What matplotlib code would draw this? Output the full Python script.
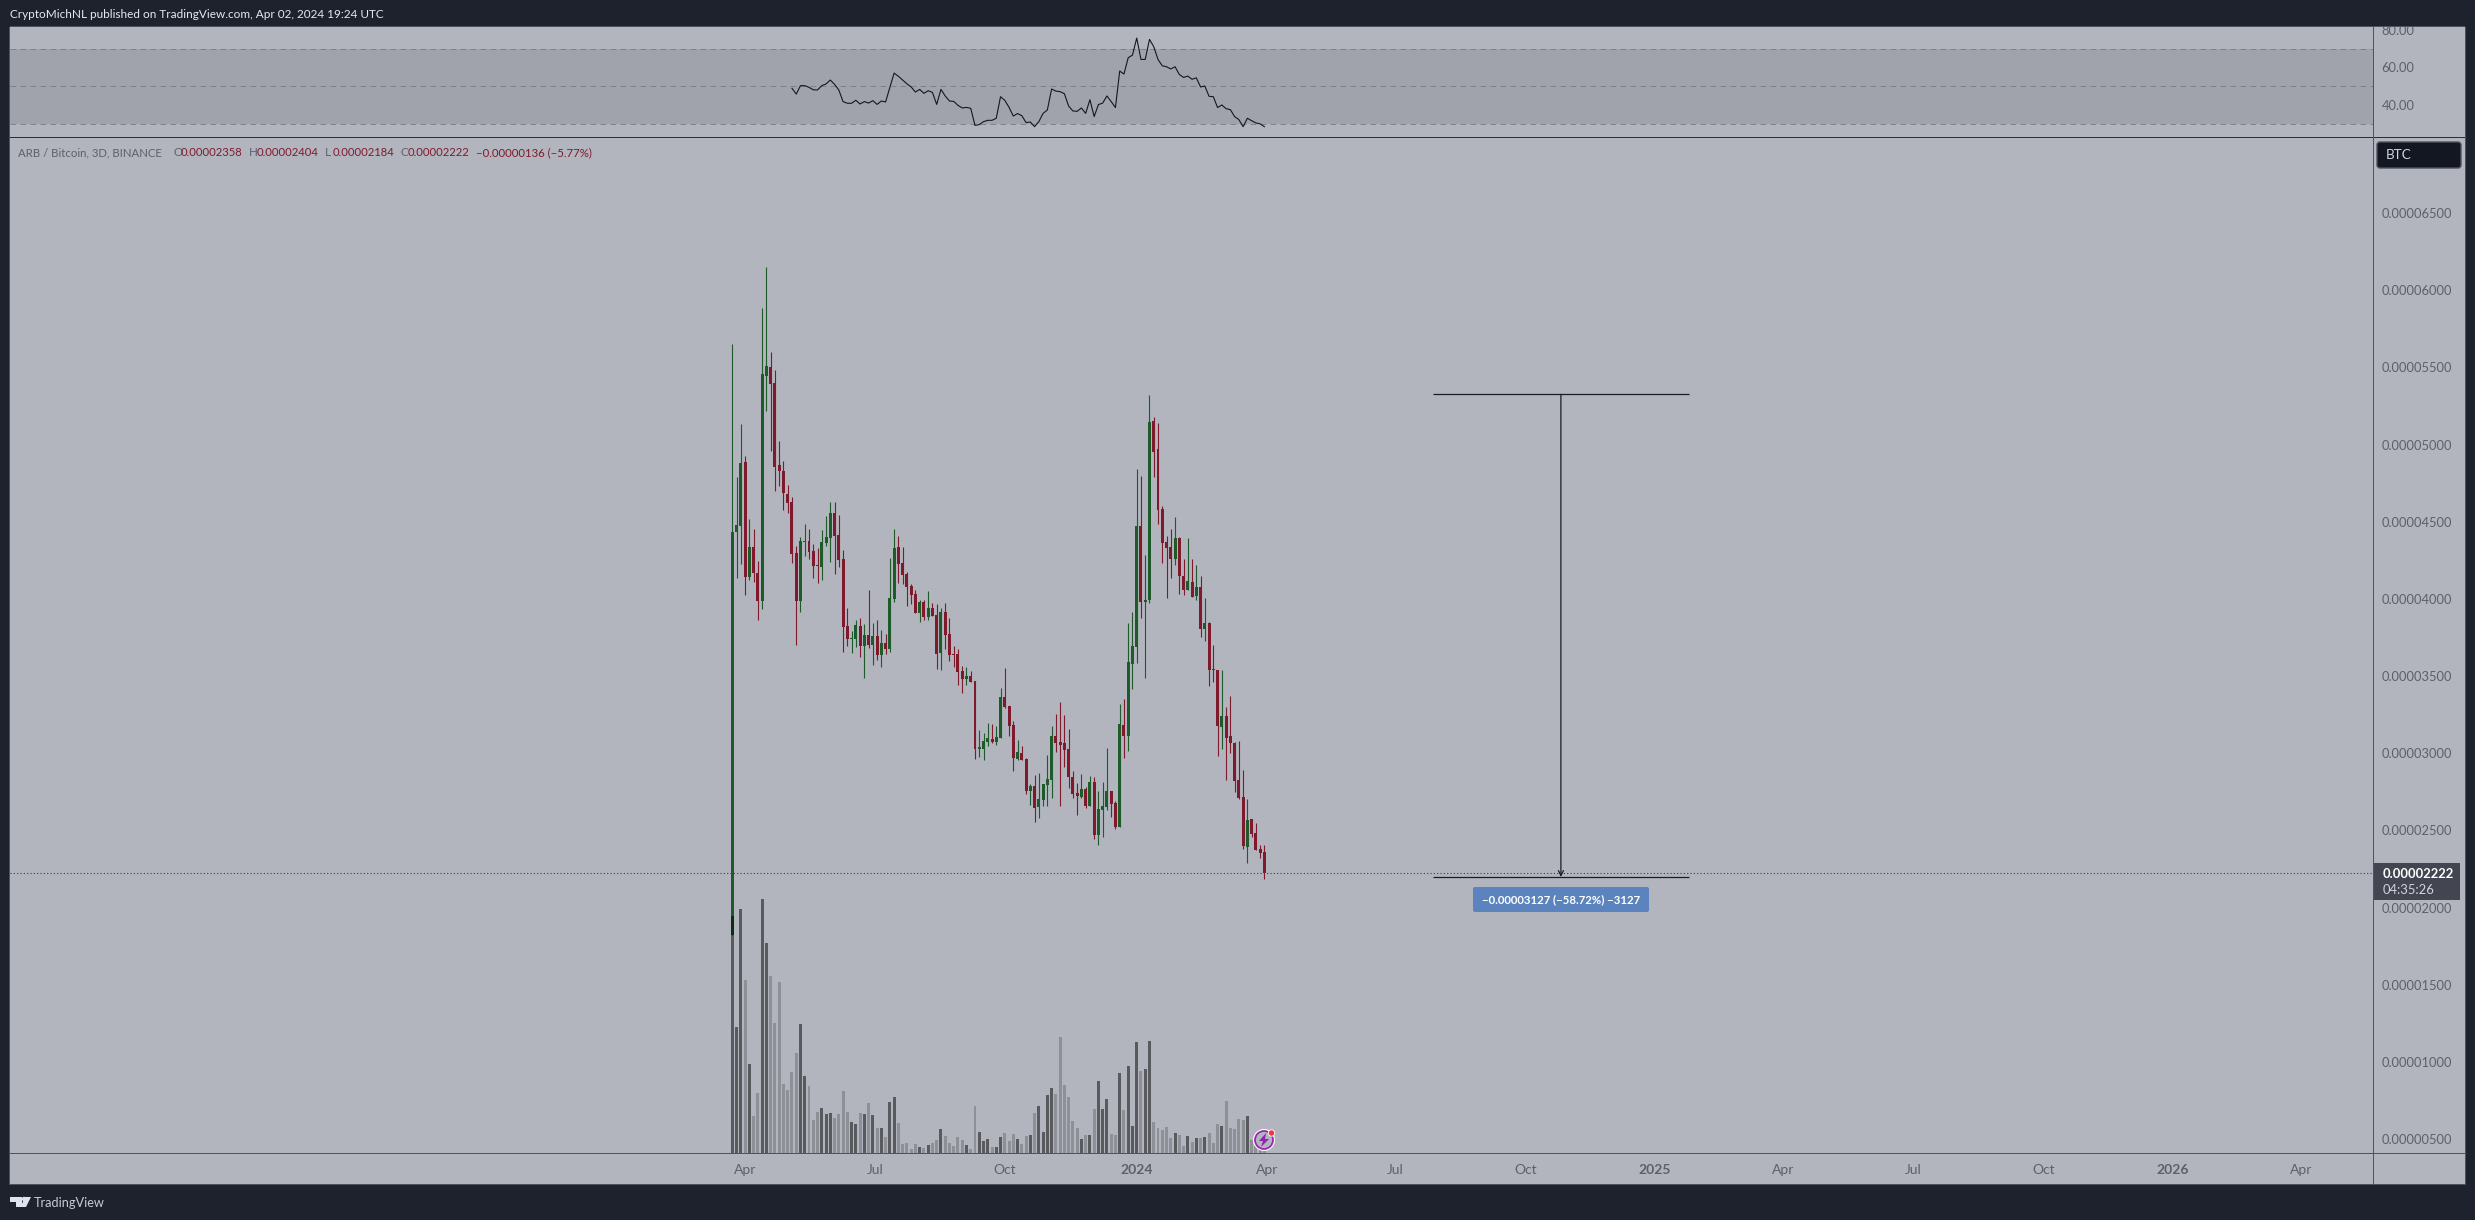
import numpy as np
import matplotlib
matplotlib.use('Agg')
import matplotlib.pyplot as plt
import matplotlib.dates as mdates
from matplotlib.patches import Rectangle, Circle, Polygon, FancyBboxPatch
from matplotlib.transforms import IdentityTransform

# prices are in satoshi (1e-8 BTC), one candle every 3 days
start_date = '2023-03-23'
opens = [1822,4431,4472,4889,4143,4336,4169,3988,5444,5502,5398,4867,4828,4679,4627,4297,3986,4368,4374,4310,4219,4206,4362,4394,4556,4413,4258,3824,3739,3739,3824,3694,3765,3701,3759,3636,3714,3675,3999,4336,4232,4161,4083,4031,3908,3979,3882,3940,3895,3649,3914,3772,3642,3642,3532,3480,3500,3468,3030,3030,3073,3092,3073,3099,3364,3306,3182,2962,3001,2962,2755,2787,2651,2696,2794,2826,3111,3072,3066,3027,2845,2742,2716,2768,2658,2813,2470,2632,2651,2755,2677,2521,3182,3111,3578,3688,4472,3979,3992,5152,4971,4582,4368,4336,4258,4394,4148,4057,4109,4018,4077,3804,3843,3545,3539,3169,3241,3111,3066,2826,2716,2392,2573,2483,2379,2358]
highs = [5651,4791,5133,4925,4517,4452,4245,5882,6152,5599,5483,5023,4893,4737,4660,4342,4398,4485,4452,4355,4329,4446,4537,4627,4627,4543,4316,3940,3791,3863,3876,3837,4057,3843,3863,3798,3772,4264,4452,4407,4336,4174,4096,4057,3992,3992,4051,3973,3966,3940,3973,3876,3694,3675,3565,3558,3532,3468,3151,3129,3198,3189,3177,3423,3550,3306,3208,3085,3046,2969,2800,2858,2871,2800,2988,3176,3254,3331,3247,3156,2884,2807,2865,2781,2852,2845,2755,2813,3033,2755,2690,3318,3351,3843,3915,4841,4796,4284,5321,5178,5139,4602,4407,4452,4530,4401,4258,4394,4258,4219,4148,4005,3850,3701,3539,3539,3299,3370,3072,3079,2891,2703,2573,2547,2405,2404]
lows = [1822,4133,4225,4025,4122,4107,3863,3934,5217,4958,4699,4731,4575,4556,4232,3701,3914,4277,4258,4135,4102,4122,4342,4238,4161,4206,3655,3694,3649,3688,3623,3487,3681,3571,3603,3558,3642,3655,3979,4102,4096,3953,3966,3908,3850,3863,3863,3889,3545,3539,3675,3597,3558,3441,3390,3441,3461,2963,2978,2956,3047,3064,3053,3099,3293,3111,2884,2956,2956,2735,2664,2554,2580,2658,2658,2709,3007,2658,2910,2774,2709,2599,2709,2645,2658,2444,2405,2457,2632,2586,2508,2521,2969,3014,3416,3584,3876,3487,3973,4789,4485,4232,4005,4135,4219,4031,4025,4057,4012,3992,3753,3727,3435,3461,2982,3027,2826,3001,2748,2703,2379,2288,2457,2372,2321,2184]
closes = [4435,4478,4882,4143,4336,4169,3986,5457,5509,5392,4854,4828,4686,4621,4290,3986,4374,4374,4303,4213,4213,4368,4400,4556,4407,4251,3817,3739,3746,3830,3694,3765,3701,3759,3636,3714,3675,4005,4329,4225,4154,4076,4025,3908,3979,3882,3940,3889,3642,3914,3765,3636,3636,3526,3480,3500,3461,3030,3043,3077,3099,3073,3105,3364,3299,3176,2969,3007,2956,2755,2787,2645,2703,2800,2832,3111,3066,3053,3020,2845,2735,2722,2768,2658,2813,2470,2638,2658,2755,2670,2521,3189,3111,3591,3694,4472,3979,3992,5146,4951,4576,4362,4329,4258,4394,4148,4057,4116,4012,4077,3804,3843,3539,3539,3176,3241,3098,3066,2820,2709,2398,2567,2476,2372,2353,2222]
volumes = [710,379,733,520,268,112,181,763,631,532,391,514,208,190,244,301,388,232,202,100,124,136,118,121,106,118,187,124,94,88,121,118,151,115,76,76,49,154,169,91,28,31,13,28,19,16,25,31,40,73,52,31,22,49,40,25,13,142,64,37,43,19,19,49,61,37,58,43,28,52,55,121,142,64,175,196,178,349,205,169,97,76,43,55,55,133,217,133,163,58,55,241,130,262,82,334,247,253,337,94,76,70,79,46,61,55,22,52,34,46,46,49,61,31,88,82,157,76,73,103,100,112,40,20,10,10]
rsi = [48.8,45.7,50.2,50.2,49.3,48.0,47.9,50.2,51.1,53.2,50.9,47.9,41.7,40.8,40.8,42.4,40.4,41.7,40.9,42.2,40.2,42.0,41.5,49.3,56.9,55.2,53.2,51.2,49.5,46.8,48.2,46.1,47.5,46.6,40.2,48.2,44.7,42.0,41.8,39.7,38.3,38.6,38.1,29.0,29.4,31.0,31.7,31.7,32.8,44.3,42.4,38.6,34.0,35.3,34.2,30.5,30.8,28.3,31.0,35.4,37.2,48.4,47.3,47.0,45.9,39.3,36.7,36.5,38.3,35.4,42.7,33.7,40.1,40.9,44.7,41.7,38.5,58.0,56.4,65.1,66.5,75.6,64.2,64.2,74.9,71.0,64.2,60.8,60.3,59.1,60.3,56.2,54.6,55.3,53.6,54.4,49.5,50.0,44.5,44.3,38.5,39.9,37.9,37.4,33.7,32.1,28.3,32.8,31.5,30.3,29.8,28.3]

price_ticks = [500,1000,1500,2000,2500,3000,3500,4000,4500,5000,5500,6000,6500]
rsi_ticks = [40, 60, 80]
rsi_bands = [30, 50, 70]
time_ticks = ['2023-04-01','2023-07-02','2023-10-01','2024-01-02','2024-04-03','2024-07-02','2024-10-02','2025-01-01','2025-04-02','2025-07-02','2025-10-02','2026-01-01','2026-04-02']
time_labels = ['Apr','Jul','Oct','2024','Apr','Jul','Oct','2025','Apr','Jul','Oct','2026','Apr']
measure_high, measure_low = 5325, 2198
measure_dates = ['2024-07-29', '2024-10-27', '2025-01-25']
last_price = 2222

W, H = 2475, 1220
FONT = 'Lato'
BG = '#b2b5be'
DARK = '#1e222d'
GREEN = '#1d5c2a'
RED = '#7f1a2c'
GREY = '#5d606b'
plt.rcParams['font.family'] = [FONT, 'DejaVu Sans']

def rect(x0, y0, x1, y1):
    return [x0/W, 1-y1/H, (x1-x0)/W, (y1-y0)/H]

def put(x, y, s, px=12.5, color=GREY, **kw):
    kw.setdefault('va', 'center')
    return fig.text(x/W, 1-y/H, s, fontsize=px*0.72, color=color, zorder=7, **kw)

dates = mdates.date2num(np.datetime64(start_date) + np.arange(len(opens))*np.timedelta64(3, 'D'))
d0 = dates[0]
per_day = 4.256/3
xlim = (d0-(732.4-10)/per_day, d0+(2373-732.4)/per_day)

o, h, l, c = map(np.array, (opens, highs, lows, closes))
up = c >= o
colors = [GREEN if u else RED for u in up]

fig = plt.figure(figsize=(W/100, H/100), dpi=100, facecolor=DARK)

# price pane
ax = fig.add_axes(rect(10, 138, 2373, 1153), facecolor=BG)
ax.vlines(dates, l, h, colors=colors, lw=0.8)
ax.bar(dates, np.abs(c-o), bottom=np.minimum(o, c), width=2.1, color=colors, lw=0)
ax.axhline(last_price, color='#3a3d45', lw=0.8, ls=(0, (1, 2)))
ax.set_xlim(xlim)
ax.set_ylim(500-14*6.48, 500+1001*6.48)
ax.yaxis.tick_right()
ax.set_yticks(price_ticks, [f'{v/1e8:.8f}' for v in price_ticks])
ax.set_xticks(mdates.date2num(np.array(time_ticks, dtype='datetime64[D]')), time_labels)
ax.tick_params(axis='y', length=0, pad=6.2, labelsize=9.3, labelcolor=GREY)
ax.tick_params(axis='x', length=0, pad=8, labelsize=10, labelcolor=GREY)
for lab, txt in zip(ax.get_xticklabels(), time_labels):
    if txt.isdigit():
        lab.set_fontweight('bold')
for s in ax.spines.values():
    s.set_visible(False)

# measure tool
mx = mdates.date2num(np.array(measure_dates, dtype='datetime64[D]'))
ax.hlines([measure_high, measure_low], mx[0], mx[2], color='#1a1c22', lw=0.9)
ax.annotate('', xy=(mx[1], measure_low), xytext=(mx[1], measure_high),
            arrowprops=dict(arrowstyle='->', color='#1a1c22', lw=0.9, shrinkA=0, shrinkB=0, mutation_scale=9))

# volume overlay, arbitrary units
vax = fig.add_axes(rect(10, 138, 2373, 1153), sharex=ax, facecolor='none')
vax.bar(dates, volumes, width=2.1, lw=0, color=[(0, 0, 0, 0.5) if u else (0, 0, 0, 0.2) for u in up])
vax.set_ylim(0, 3045)
vax.axis('off')

# rsi pane
rax = fig.add_axes(rect(10, 27, 2373, 137), facecolor=BG)
rax.axhspan(rsi_bands[0], rsi_bands[2], color='#a0a3ab', lw=0)
for b in rsi_bands:
    rax.axhline(b, color='#787b86', lw=0.6, ls=(0, (7, 5)))
rax.plot(dates[-len(rsi):], rsi, color='#15171c', lw=0.8)
rax.set_xlim(xlim)
rax.set_ylim(22.8, 81.5)
rax.set_xticks([])
rax.yaxis.tick_right()
rax.set_yticks(rsi_ticks, [f'{v:.2f}' for v in rsi_ticks])
rax.tick_params(axis='y', length=0, pad=6.2, labelsize=9.3, labelcolor=GREY)
for s in rax.spines.values():
    s.set_visible(False)

# frame and scale strips
px = IdentityTransform()
def R(x0, y0, x1, y1, z=3, **kw):
    fig.add_artist(Rectangle((x0, H-y1), x1-x0, y1-y0, transform=px, lw=0, zorder=z, **kw))

R(10, 137, 2373, 138, color='#2a2e39')
R(2373, 137, 2465, 138, color='#2a2e39')
R(10, 1153, 2465, 1154, color='#50535e')
R(2373, 27, 2374, 1184, color='#50535e')
R(0, 0, W, 27, z=5, color=DARK)
R(10, 26, 2465, 27, z=6, color='#50535e')
R(9, 1184, 2466, 1185, z=6, color='#50535e')
R(2465, 27, 2466, 1185, z=6, color='#50535e')
R(9, 27, 10, 1185, z=6, color='#50535e')
# strips behind the axes
fig.add_artist(Rectangle((2374, H-1184), 91, 1157, transform=px, lw=0, color=BG, zorder=-1))
fig.add_artist(Rectangle((10, H-1184), 2363, 31, transform=px, lw=0, color=BG, zorder=-1))

# measure label
fig.add_artist(FancyBboxPatch((1475, H-910), 172, 21, boxstyle='round,pad=2,rounding_size=2',
                              transform=px, fc='#5b84be', ec='none', zorder=5))
put(1561, 899.5, '\u22120.00003127 (\u221258.72%) \u22123127', px=11.4, color='white', ha='center', fontweight='bold')

# header and legend
put(10, 15, 'CryptoMichNL published on TradingView.com, Apr 02, 2024 19:24 UTC', px=11.8, color='#e8e9ee')
put(18, 153, 'ARB / Bitcoin, 3D, BINANCE', px=11.4)
for x, lab, val in [(173, 'O', '0.00002358'), (249, 'H', '0.00002404'), (325, 'L', '0.00002184'), (400, 'C', '0.00002222')]:
    put(x, 153, lab, px=11.6)
    put(x+8, 153, val, px=11.3, color=RED)
put(476, 153, '\u22120.00000136 (\u22125.77%)', px=11.4, color=RED)

# BTC box and last price tag
fig.add_artist(FancyBboxPatch((2379, H-166), 80, 22, boxstyle='round,pad=2,rounding_size=3',
                              transform=px, fc='#131722', ec='#50535e', lw=1, zorder=5))
put(2386, 155, 'BTC', px=13.5, color='#d1d4dc')
R(2374, 863, 2460, 900, z=5, color='#434651')
put(2383, 874, '0.00002222', px=13, color='white', fontweight='bold')
put(2383, 890, '04:35:26', px=13, color='#d1d4dc')

# footer logo
for pts in [[(10, 1197), (22, 1197), (22, 1207), (16, 1207), (16, 1202), (10, 1202)],
            [(31, 1197), (26, 1207), (20.5, 1207), (25, 1197)]]:
    fig.add_artist(Polygon([(a, H-b) for a, b in pts], transform=px, fc='#e0e3eb', lw=0, zorder=5))
fig.add_artist(Circle((24, H-1199), 2.2, transform=px, fc='#e0e3eb', lw=0, zorder=5))
put(34, 1203, 'TradingView', px=12.7, color='#c8cbd3')

# flash icon on the last bars
fig.add_artist(Circle((1264, H-1140), 11, transform=px, fc='white', lw=0, zorder=5))
fig.add_artist(Circle((1264, H-1140), 9, transform=px, fc=BG, ec='#9c27b0', lw=1.3, zorder=5))
fig.add_artist(Polygon([(a, H-b) for a, b in [(1266, 1133), (1259, 1141), (1263, 1141), (1261, 1147), (1269, 1139), (1265, 1139)]],
                       transform=px, fc='#8e24aa', lw=0, zorder=6))
fig.add_artist(Circle((1271.5, H-1133), 3.2, transform=px, fc='#f23645', ec='white', lw=0.6, zorder=6))

fig.savefig('out.png', dpi=100, facecolor=DARK)
